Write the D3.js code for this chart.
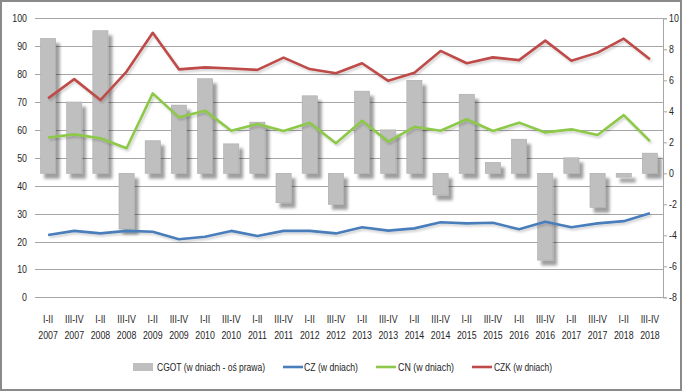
<!DOCTYPE html>
<html>
<head>
<meta charset="utf-8">
<script src="https://cdn.jsdelivr.net/npm/d3@7/dist/d3.min.js"></script>
<style>
  html, body { margin: 0; padding: 0; background: #fff; }
  svg { display: block; }
  text { font-family: "Liberation Sans", Arial, sans-serif; font-size: 11px; fill: #262626; }
</style>
</head>
<body>
<svg id="chart" width="682" height="391"></svg>
<script>
const periods = ["I-II","III-IV","I-II","III-IV","I-II","III-IV","I-II","III-IV","I-II","III-IV","I-II","III-IV","I-II","III-IV","I-II","III-IV","I-II","III-IV","I-II","III-IV","I-II","III-IV","I-II","III-IV"];
const years = ["2007","2007","2008","2008","2009","2009","2010","2010","2011","2011","2012","2012","2013","2013","2014","2014","2015","2015","2016","2016","2017","2017","2018","2018"];
const cgot = [8.7, 4.6, 9.2, -3.6, 2.1, 4.4, 6.1, 1.9, 3.3, -1.9, 5.0, -2.0, 5.3, 2.8, 6.0, -1.4, 5.1, 0.7, 2.2, -5.6, 1.0, -2.2, -0.25, 1.3];
const cz = [22.3, 23.8, 22.9, 23.8, 23.5, 20.8, 21.7, 23.8, 22.0, 23.8, 23.8, 22.9, 25.1, 23.9, 24.7, 26.9, 26.5, 26.7, 24.4, 27.1, 25.1, 26.5, 27.3, 30.1];
const cn = [57.3, 58.4, 57.0, 53.4, 73.1, 64.5, 66.9, 59.7, 62.1, 59.6, 62.6, 55.2, 63.3, 55.8, 61.1, 59.7, 63.8, 59.6, 62.6, 59.1, 60.2, 58.2, 65.3, 56.0];
const czk = [71.3, 78.2, 70.7, 80.9, 94.8, 81.7, 82.4, 82.0, 81.5, 85.9, 81.8, 80.3, 83.9, 77.6, 80.5, 88.3, 83.9, 86.0, 85.0, 92.0, 84.8, 87.7, 92.7, 85.3];
const leftTicks = [0,10,20,30,40,50,60,70,80,90,100];
const rightTicks = [-8,-6,-4,-2,0,2,4,6,8,10];
const seriesNames = ["CGOT (w dniach - oś prawa)", "CZ (w dniach)", "CN (w dniach)", "CZK (w dniach)"];

const colors = { bar: "#BFBFBF", cz: "#4A7EBB", cn: "#8DC84A", czk: "#BE4B48" };

const svg = d3.select("#chart");
const W = 682, H = 391;
const plot = { left: 35, right: 663, top: 18.3, bottom: 297.3 };
const SX = 0.8; // narrow text

function addText(parent, x, y, str, anchor, len) {
  const t = parent.append("g").attr("transform", `translate(${x},${y}) scale(${SX},1)`)
    .append("text").attr("text-anchor", anchor || "start").text(str);
  if (len) t.attr("textLength", len / SX).attr("lengthAdjust", "spacingAndGlyphs");
  return t;
}

const defs = svg.append("defs");
const f1 = defs.append("filter").attr("id","barShadow").attr("x","-30%").attr("y","-30%").attr("width","180%").attr("height","180%");
f1.append("feDropShadow").attr("dx",4).attr("dy",5).attr("stdDeviation",1.6).attr("flood-color","#000").attr("flood-opacity",0.38);
const f2 = defs.append("filter").attr("id","lineShadow").attr("x","-10%").attr("y","-30%").attr("width","120%").attr("height","160%");
f2.append("feDropShadow").attr("dx",1.5).attr("dy",2).attr("stdDeviation",1.2).attr("flood-color","#000").attr("flood-opacity",0.18);

// outer border
svg.append("rect").attr("x",1).attr("y",1).attr("width",W-2).attr("height",H-2)
  .attr("fill","#fff").attr("stroke","#8A8A8A").attr("stroke-width",2);

const idx = d3.range(periods.length);
const x = d3.scaleBand().domain(idx).range([plot.left, plot.right]).paddingInner(0.42).paddingOuter(0.21);
const yL = d3.scaleLinear().domain([0,100]).range([plot.bottom, plot.top]);
const yR = d3.scaleLinear().domain([-8,10]).range([plot.bottom, plot.top]);

// gridlines
svg.append("g").selectAll("line").data(leftTicks).join("line")
  .attr("x1", plot.left).attr("x2", plot.right)
  .attr("y1", d => Math.round(yL(d)) + 0.5).attr("y2", d => Math.round(yL(d)) + 0.5)
  .attr("stroke", "#A6A6A6").attr("stroke-width", 1);

// left axis labels
const gL = svg.append("g");
leftTicks.forEach(v => addText(gL, 27, yL(v) + 4, String(v), "end"));

// right axis
const gR = svg.append("g").attr("transform", `translate(${plot.right},0)`)
  .call(d3.axisRight(yR).tickValues(rightTicks).tickSize(4).tickFormat(""));
gR.select(".domain").attr("stroke","#A6A6A6");
gR.selectAll(".tick line").attr("stroke","#A6A6A6");
const gRT = svg.append("g");
rightTicks.forEach(v => addText(gRT, 669, yR(v) + 4, v < 0 ? "-" + Math.abs(v) : String(v), "start"));

// bars
svg.append("g").attr("filter","url(#barShadow)").selectAll("rect").data(idx).join("rect")
  .attr("x", i => x(i))
  .attr("width", x.bandwidth())
  .attr("y", i => Math.min(yR(cgot[i]), yR(0)))
  .attr("height", i => Math.abs(yR(cgot[i]) - yR(0)))
  .attr("fill", colors.bar)
  .attr("stroke", "#ABABAB").attr("stroke-width", 0.6);

// lines
const cx = i => x(i) + x.bandwidth()/2;
const lineGen = arr => d3.line().x(i => cx(i)).y(i => yL(arr[i]))(idx);
[[cz, colors.cz], [cn, colors.cn], [czk, colors.czk]].forEach(([arr, c]) => {
  svg.append("path").attr("d", lineGen(arr)).attr("fill","none")
    .attr("stroke", c).attr("stroke-width", 2.6).attr("stroke-linejoin","round")
    .attr("filter","url(#lineShadow)");
});

// category labels
const gX = svg.append("g");
idx.forEach(i => {
  addText(gX, cx(i), 323, periods[i], "middle");
  addText(gX, cx(i), 339, years[i], "middle");
});

// legend
const leg = svg.append("g");
const legItems = [
  { type: "rect", x: 133, tx: 157, len: 108, c: colors.bar },
  { type: "line", x: 283, tx: 304, len: 54, c: colors.cz },
  { type: "line", x: 376, tx: 398, len: 56, c: colors.cn },
  { type: "line", x: 472, tx: 494, len: 58, c: colors.czk }
];
legItems.forEach((d, k) => {
  if (d.type === "rect") {
    leg.append("rect").attr("x", d.x).attr("y", 363).attr("width", 20).attr("height", 8).attr("fill", d.c);
  } else {
    leg.append("line").attr("x1", d.x).attr("x2", d.x + 20).attr("y1", 367).attr("y2", 367)
      .attr("stroke", d.c).attr("stroke-width", 2.6);
  }
  addText(leg, d.tx, 371, seriesNames[k], "start", d.len);
});
</script>
</body>
</html>
